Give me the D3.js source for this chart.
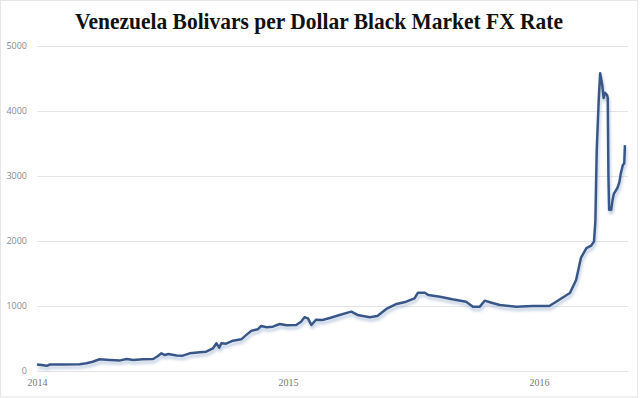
<!DOCTYPE html>
<html>
<head>
<meta charset="utf-8">
<script src="https://cdn.jsdelivr.net/npm/d3@7"></script>
<style>
  html, body { margin: 0; padding: 0; background: #fff; }
  svg { display: block; }
</style>
</head>
<body>
<svg id="chart" width="640" height="398"></svg>
<script>
const title = "Venezuela Bolivars per Dollar Black Market FX Rate";
const yTicks = [0, 1000, 2000, 3000, 4000, 5000];
const xTickLabels = ["2014", "2015", "2016"];
const dates = [
  "2014-01-01","2014-01-08","2014-01-15","2014-01-20","2014-02-08","2014-03-04","2014-03-14","2014-03-23",
  "2014-04-02","2014-04-17","2014-05-01","2014-05-11","2014-05-21","2014-06-04","2014-06-19","2014-06-26",
  "2014-07-01","2014-07-06","2014-07-11","2014-07-23","2014-08-01","2014-08-11","2014-08-26","2014-09-04",
  "2014-09-14","2014-09-19","2014-09-23","2014-09-26","2014-10-03","2014-10-13","2014-10-25","2014-11-04",
  "2014-11-09","2014-11-18","2014-11-23","2014-12-01","2014-12-10","2014-12-20","2014-12-30","2015-01-13",
  "2015-01-20","2015-01-25","2015-01-30","2015-02-04","2015-02-11","2015-02-20","2015-03-03","2015-03-17",
  "2015-04-03","2015-04-12","2015-04-30","2015-05-11","2015-05-24","2015-06-08","2015-06-22","2015-07-04",
  "2015-07-09","2015-07-19","2015-07-24","2015-08-10","2015-08-28","2015-09-17","2015-09-27","2015-10-07",
  "2015-10-14","2015-10-24","2015-11-05","2015-11-29","2015-12-23","2016-01-16","2016-01-26","2016-02-15",
  "2016-02-24","2016-03-02","2016-03-10","2016-03-17","2016-03-21","2016-03-23","2016-03-25","2016-03-28",
  "2016-03-30","2016-04-02","2016-04-04","2016-04-06","2016-04-09","2016-04-10","2016-04-11","2016-04-12",
  "2016-04-15","2016-04-17","2016-04-19","2016-04-24","2016-04-27","2016-04-29","2016-05-02","2016-05-04",
  "2016-05-05"
];
const rates = [
  100, 92, 80, 100, 100, 103, 118, 143,
  180, 169, 160, 185, 170, 180, 185, 231,
  272, 246, 262, 240, 236, 272, 287, 297,
  349, 426, 360, 426, 420, 466, 487, 579,
  620, 641, 692, 672, 682, 723, 703, 708,
  759, 826, 810, 708, 790, 785, 815, 862,
  913, 862, 826, 846, 954, 1031, 1066, 1118,
  1205, 1205, 1170, 1143, 1103, 1066, 990, 990,
  1082, 1051, 1015, 990, 1000, 1000, 1066, 1200,
  1400, 1740, 1890, 1930, 1990, 2300, 3400, 4200,
  4580, 4400, 4200, 4280, 4245, 4200, 3000, 2480,
  2480, 2630, 2730, 2815, 2910, 3040, 3170, 3195,
  3475
];

(function () {
const parse = d3.timeParse("%Y-%m-%d");
const data = dates.map((d, i) => ({ date: parse(d), value: rates[i] }));

const svg = d3.select("#chart");
const mLeft = 37, mRight = 628, mTop = 46, mBottom = 371;

const x = d3.scaleTime()
  .domain([parse("2014-01-01"), parse("2016-05-08")])
  .range([mLeft, 627]);
const y = d3.scaleLinear().domain([0, 5000]).range([mBottom, mTop]);

// frame
svg.append("rect").attr("x", 0.5).attr("y", 0.5).attr("width", 637).attr("height", 396.5)
  .attr("fill", "none").attr("stroke", "#e6e6e6");

// title
svg.append("text")
  .attr("x", 319).attr("y", 29)
  .attr("text-anchor", "middle")
  .attr("font-family", "'Liberation Serif', 'DejaVu Serif', serif")
  .attr("font-weight", "bold")
  .attr("font-size", 23)
  .attr("fill", "#111")
  .attr("textLength", 488).attr("lengthAdjust", "spacingAndGlyphs")
  .text(title);

// y axis with gridlines
const yAxis = svg.append("g")
  .attr("transform", `translate(${mLeft},0)`)
  .call(d3.axisLeft(y).tickValues(yTicks).tickSize(-(mRight - mLeft)).tickPadding(10).tickFormat(d3.format("d")));
yAxis.select(".domain").remove();
yAxis.selectAll(".tick line").attr("stroke", "#e4e4e4").attr("stroke-width", 1.2);
yAxis.selectAll(".tick text")
  .attr("font-family", "'Open Sans', 'DejaVu Sans', sans-serif")
  .attr("font-size", 9).attr("fill", "#8a8a8a");

// x axis
const xAxis = svg.append("g")
  .attr("transform", `translate(0,${mBottom})`)
  .call(d3.axisBottom(x)
    .tickValues(xTickLabels.map(s => parse(s + "-01-01")))
    .tickSize(0).tickPadding(8)
    .tickFormat((d, i) => xTickLabels[i]));
xAxis.select(".domain").remove();
xAxis.selectAll(".tick text")
  .attr("font-family", "'Liberation Serif', 'DejaVu Serif', serif")
  .attr("font-size", 10).attr("fill", "#777");

// shadow filter
const defs = svg.append("defs");
const f = defs.append("filter").attr("id", "shadow").attr("x", "-5%").attr("y", "-5%").attr("width", "110%").attr("height", "120%");
f.append("feGaussianBlur").attr("in", "SourceAlpha").attr("stdDeviation", 1.6).attr("result", "blur");
f.append("feOffset").attr("in", "blur").attr("dx", 1).attr("dy", 3).attr("result", "off");
f.append("feFlood").attr("flood-color", "#7f9cc4").attr("flood-opacity", 0.55).attr("result", "col");
f.append("feComposite").attr("in", "col").attr("in2", "off").attr("operator", "in").attr("result", "sh");
const mg = f.append("feMerge");
mg.append("feMergeNode").attr("in", "sh");
mg.append("feMergeNode").attr("in", "SourceGraphic");

const line = d3.line().x(d => x(d.date)).y(d => y(d.value));
svg.append("path")
  .datum(data)
  .attr("d", line)
  .attr("fill", "none")
  .attr("stroke", "#385788")
  .attr("stroke-width", 2.5)
  .attr("stroke-linejoin", "round")
  .attr("filter", "url(#shadow)");
})();
</script>
</body>
</html>
